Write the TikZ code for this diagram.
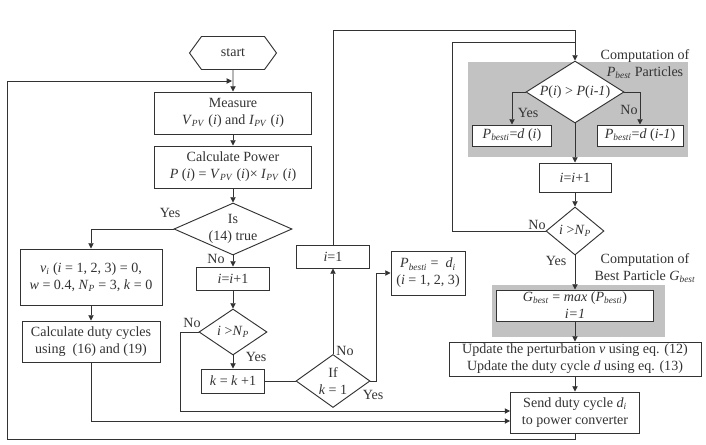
\documentclass[tikz,border=0pt]{standalone}
\usepackage{fontspec}
\setmainfont{Liberation Serif}
\usetikzlibrary{calc,arrows.meta,shapes.geometric,shapes.symbols}
\newcommand\sbvar[2]{\textit{#1}\textsubscript{\textit{#2}}}
\tikzset{
  box/.style={draw, fill=white, align=center, inner sep=1pt},
  dia/.style={draw, diamond, fill=white, align=center, inner sep=0pt},
  lbl/.style={inner sep=0pt, align=center},
  arr/.style={-{Triangle[length=4.5pt,width=4.5pt]}},
  zone/.style={fill=black!24, draw=none}
}

\begin{document}
\begin{tikzpicture}[x=0.03cm, y=-0.03cm, line width=0.8pt, color=black!80,
  font=\fontsize{12}{14.5}\selectfont]
				\useasboundingbox (0,0) rectangle (706,444);
				
				\fill[zone] (468,62) rectangle (688,157);
				\fill[zone] (492,285) rectangle (665,337);
				
				\node[signal, signal to=east and west, signal pointer angle=108, draw, fill=white,
				  inner sep=0pt, minimum width=2.61cm, minimum height=0.99cm] (start) at (233,53) {start};
				\node[box, minimum width=4.71cm, minimum height=1.26cm] (meas) at (233,113)
				  {Measure\\\sbvar{V}{PV} (\textit{i}) and \sbvar{I}{PV} (\textit{i})};
				\node[box, minimum width=4.71cm, minimum height=1.26cm] (power) at (233,167)
				  {Calculate Power\\\textit{P} (\textit{i}) = \sbvar{V}{PV} (\textit{i})× \sbvar{I}{PV} (\textit{i})};
				\node[dia, aspect=2.27, minimum width=3.54cm, minimum height=1.56cm] (is14) at (233,229) {Is\\(14) true};
				\node[box, minimum width=4.26cm, minimum height=1.68cm] (init) at (91,277)
				  {\sbvar{v}{i} (\textit{i} = 1, 2, 3) = 0,\\\textit{w} = 0.4, \sbvar{N}{P} = 3, \textit{k} = 0};
				\node[box, minimum width=4.14cm, minimum height=1.23cm] (duty) at (91,341.5)
				  {Calculate duty cycles\\using\ \ (16) and (19)};
				\node[box, minimum width=2.19cm, minimum height=0.69cm] (incA) at (233,278.5) {\textit{i}=\textit{i}+1};
				\node[dia, aspect=1.48, minimum width=2.04cm, minimum height=1.38cm] (cmpA) at (233,332) {\textit{i} >\sbvar{N}{P}};
				\node[box, minimum width=1.89cm, minimum height=0.72cm] (kinc) at (233,381) {\textit{k} = \textit{k} +1};
				\node[dia, aspect=1.4, minimum width=2.22cm, minimum height=1.59cm] (ifk) at (333,381) {If\\\textit{k} = 1};
				\node[box, minimum width=2.19cm, minimum height=0.69cm] (iset) at (333,256.5) {\textit{i}=1};
				\node[box, minimum width=2.22cm, minimum height=1.32cm] (pbinit) at (428,273)
				  {\sbvar{P}{besti} =\ \ \sbvar{d}{i}\\(\textit{i} = 1, 2, 3)};
				
				\node[dia, aspect=1.58, minimum width=2.94cm, minimum height=1.86cm] (ptest) at (575,92)
				  {\textit{P}(\textit{i}) > \textit{P}(\textit{i-1})};
				\node[box, minimum width=2.37cm, minimum height=0.63cm] (pbA) at (512,135.5)
				  {\sbvar{P}{besti}=\textit{d} (\textit{i})};
				\node[box, minimum width=2.58cm, minimum height=0.63cm] (pbB) at (640,135.5)
				  {\sbvar{P}{besti}=\textit{d} (\textit{i-1})};
				\node[box, minimum width=2.16cm, minimum height=0.87cm] (incB) at (575,177.5) {\textit{i}=\textit{i}+1};
				\node[dia, aspect=1.2, minimum width=1.74cm, minimum height=1.44cm] (cmpB) at (575,231) {\textit{i} >\sbvar{N}{P}};
				\node[box, minimum width=4.71cm, minimum height=0.93cm] (gbest) at (575,305.5)
				  {\sbvar{G}{best} = \textit{max} (\sbvar{P}{besti})\\\textit{i=1}};
				\node[box, minimum width=7.56cm, minimum height=1.02cm] (upd) at (575,359)
				  {Update the perturbation \textit{v} using eq. (12)\\Update the duty cycle \textit{d} using eq. (13)};
				\node[box, minimum width=3.87cm, minimum height=1.23cm] (send) at (575,412.5)
				  {Send duty cycle \sbvar{d}{i}\\to power converter};
				
				\node[lbl] (compA) at (645,64) {Computation of\\\sbvar{P}{best} Particles};
				\node[lbl] (compB) at (645,268) {Computation of\\Best Particle \sbvar{G}{best}};
				
				\node[lbl] (yesIs) at (170,213) {Yes};
				\node[lbl] (noIs) at (216,259) {No};
				\node[lbl] (noA) at (192,323) {No};
				\node[lbl] (yesA) at (256,357) {Yes};
				\node[lbl] (noK) at (345,351) {No};
				\node[lbl] (yesK) at (373,395) {Yes};
				\node[lbl] (yesP) at (528,113) {Yes};
				\node[lbl] (noP) at (629,110) {No};
				\node[lbl] (noB) at (537,225) {No};
				\node[lbl] (yesB) at (556,261) {Yes};
				
				\coordinate (join) at (232,81);
				\coordinate (topleft) at (7,81);
				\coordinate (botleft) at (7,439);
				\coordinate (bendA) at (180,332);
				\coordinate (bendK) at (376,381);
				\coordinate (bendB) at (452,231);
				\coordinate (toprail) at (575,30);
				\coordinate (midrail) at (575,42);
				\coordinate (inA) at ($(send.west)+(0,-1.5)$);
				\coordinate (inB) at ($(send.west)+(0,8.5)$);
				
				\draw[arr] (start) -- (meas);
				\draw[arr] (meas) -- (power);
				\draw[arr] (power) -- (is14);
				\draw[arr] (is14.west) -| (init.north);
				\draw[arr] (init) -- (duty);
				\draw[arr] (is14) -- (incA);
				\draw[arr] (incA) -- (cmpA);
				\draw[arr] (cmpA) -- (kinc);
				\draw[arr] (cmpA.west) -- (bendA) |- (inA);
				\draw[arr] (duty.south) |- (inB);
				\draw (kinc) -- (ifk);
				\draw[arr] (ifk) -- (iset);
				\draw[arr] (ifk.east) -- (bendK) |- (pbinit.west);
				\draw[arr] (iset.north) |- (toprail) -- (ptest.north);
				\draw[arr] (ptest.west) -| (pbA.north);
				\draw[arr] (ptest.east) -| (pbB.north);
				\draw[arr] (ptest) -- (incB);
				\draw[arr] (incB) -- (cmpB);
				\draw (cmpB.west) -- (bendB) |- (midrail);
				\draw[arr] (cmpB) -- (gbest);
				\draw[arr] (gbest) -- (upd);
				\draw[arr] (upd) -- (send);
				\draw[arr] (send.south) |- (botleft) -- (topleft) -- (join);
			\end{tikzpicture}
\end{document}
